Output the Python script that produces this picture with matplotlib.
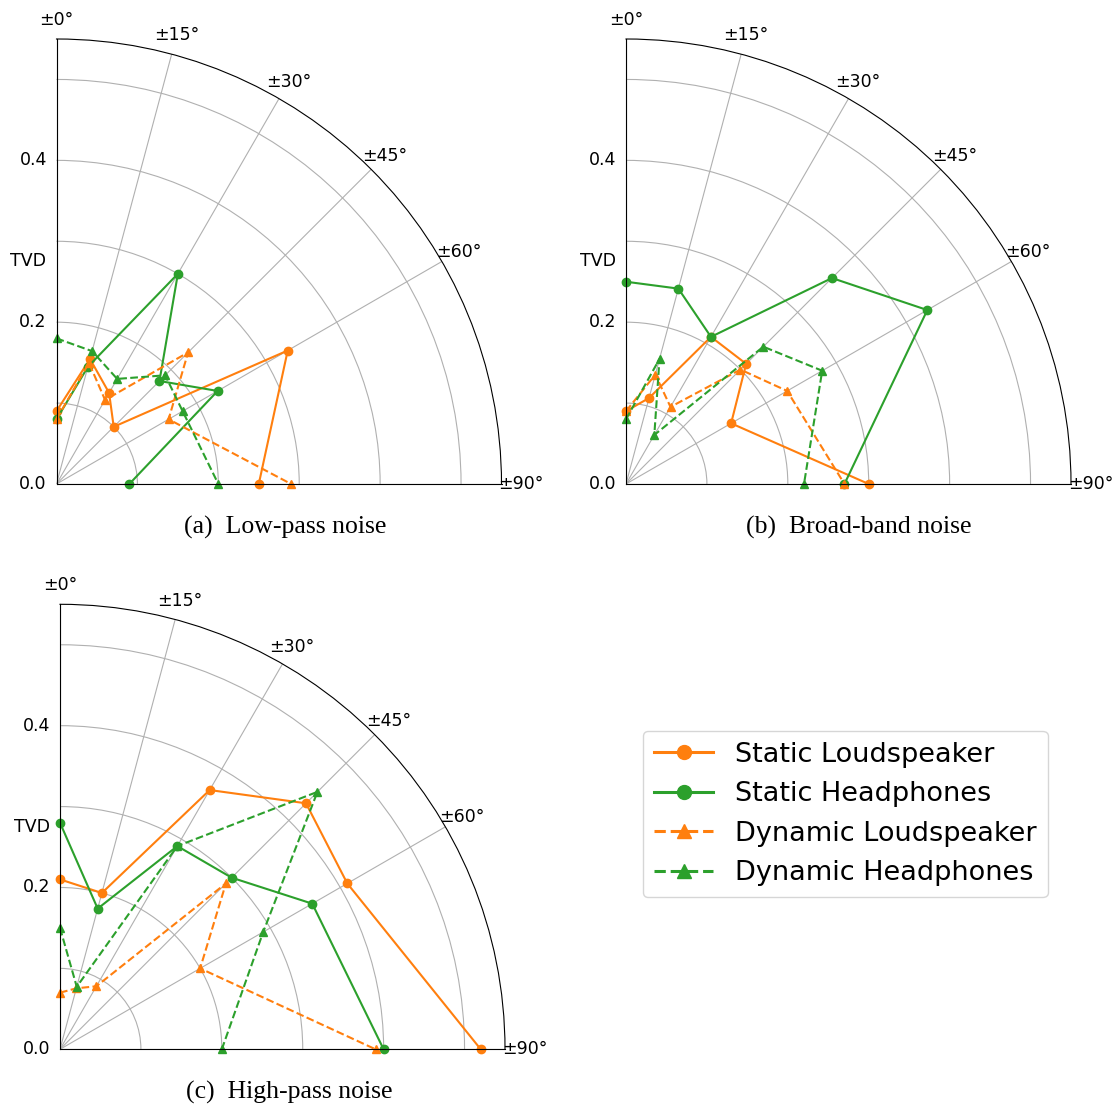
import numpy as np
import matplotlib
matplotlib.use('Agg')
import matplotlib.pyplot as plt
from matplotlib.lines import Line2D

# angles of the source (deg) and TVD values
angles = [0, 15, 30, 45, 60, 90]

low_static_ls = [0.09, 0.16, 0.13, 0.10, 0.33, 0.25]
low_static_hp = [0.08, 0.15, 0.30, 0.18, 0.23, 0.09]
low_dyn_ls = [0.08, 0.155, 0.12, 0.23, 0.16, 0.29]
low_dyn_hp = [0.18, 0.17, 0.15, 0.19, 0.18, 0.20]

broad_static_ls = [0.09, 0.11, 0.21, 0.21, 0.15, 0.30]
broad_static_hp = [0.25, 0.25, 0.21, 0.36, 0.43, 0.27]
broad_dyn_ls = [0.09, 0.14, 0.11, 0.20, 0.23, 0.27]
broad_dyn_hp = [0.08, 0.16, 0.07, 0.24, 0.28, 0.22]

high_static_ls = [0.21, 0.20, 0.37, 0.43, 0.41, 0.52]
high_static_hp = [0.28, 0.18, 0.29, 0.30, 0.36, 0.40]
high_dyn_ls = [0.07, 0.078, 0.09, 0.29, 0.20, 0.39]
high_dyn_hp = [0.15, 0.08, 0.29, 0.45, 0.29, 0.20]

series_names = ['Static Loudspeaker', 'Static Headphones',
                'Dynamic Loudspeaker', 'Dynamic Headphones']
theta_labels = ['±0°', '±15°', '±30°', '±45°', '±60°', '±90°']
r_ticks = [0.0, 0.1, 0.2, 0.3, 0.4, 0.5]
r_labels = ['0.0', '', '0.2', '', '0.4', '']
captions = ['(a)  Low-pass noise', '(b)  Broad-band noise', '(c)  High-pass noise']

ORANGE = '#ff7f0e'
GREEN = '#2ca02c'
styles = [('-', 'o', ORANGE), ('-', 'o', GREEN), ('--', '^', ORANGE), ('--', '^', GREEN)]

W, H = 1120, 1108
fig = plt.figure(figsize=(W / 100, H / 100), dpi=100)


def make_ax(x0, y_origin, size):
    # x0, y_origin: pixel position of the polar origin (image coords, y down)
    ax = fig.add_axes([x0 / W, (H - y_origin) / H, size / W, size / H],
                      projection='polar')
    return ax


def draw(ax, data):
    th = np.deg2rad(angles)
    for vals, (ls, mk, col), name in zip(data, styles, series_names):
        ax.plot(th, vals, linestyle=ls, marker=mk, color=col, lw=1.5, ms=6,
                label=name, clip_on=False)
    ax.set_theta_zero_location('N')
    ax.set_theta_direction(-1)
    ax.set_thetamin(0)
    ax.set_thetamax(90)
    ax.set_ylim(0, 0.55)
    ax.set_thetagrids(angles, theta_labels)
    ax.set_rticks(r_ticks)
    ax.set_yticklabels(r_labels)
    ax.tick_params(axis='both', labelsize=12.5)
    ax.set_rlabel_position(0)
    ax.set_aspect('auto')
    ax.grid(True, color='#b0b0b0', lw=0.8)
    ax.text(-0.063, 0.5, 'TVD', transform=ax.transAxes, ha='center', va='center',
            fontsize=12.5)


ax1 = make_ax(56.5, 484, 445)
draw(ax1, [low_static_ls, low_static_hp, low_dyn_ls, low_dyn_hp])
ax2 = make_ax(626, 484, 445)
draw(ax2, [broad_static_ls, broad_static_hp, broad_dyn_ls, broad_dyn_hp])
ax3 = make_ax(60, 1049.3, 445)
draw(ax3, [high_static_ls, high_static_hp, high_dyn_ls, high_dyn_hp])

serif = ['Liberation Serif', 'DejaVu Serif']
fig.text(285 / W, 1 - 527 / H, captions[0], ha='center', va='center', fontsize=18.5, family=serif)
fig.text(859 / W, 1 - 527 / H, captions[1], ha='center', va='center', fontsize=18.5, family=serif)
fig.text(289 / W, 1 - 1092 / H, captions[2], ha='center', va='center', fontsize=18.5, family=serif)

# legend with bigger handles, as in the original
handles = [Line2D([], [], linestyle=ls, marker=mk, color=col, lw=2.2, ms=10)
           for ls, mk, col in styles]
fig.legend(handles, series_names, loc='upper left', bbox_to_anchor=(643 / W, 1 - 731 / H),
           fontsize=19.5, borderaxespad=0, handlelength=2.2)

fig.savefig('out.png', dpi=100)
